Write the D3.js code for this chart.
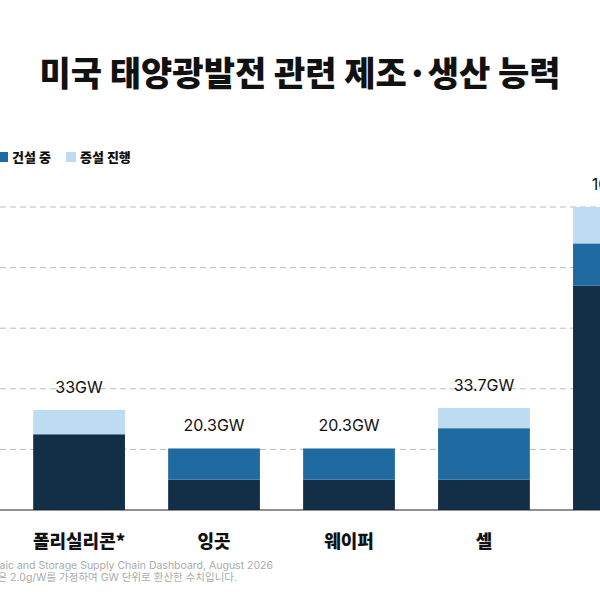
<!DOCTYPE html>
<html><head><meta charset="utf-8">
<script src="https://cdn.jsdelivr.net/npm/d3@7"></script>
<style>body{margin:0;background:#fff}svg{display:block;font-family:"Noto Sans CJK KR","Noto Sans",sans-serif}</style>
</head><body><svg id="c" width="600" height="600"></svg>
<script>
const categories = ["폴리실리콘*", "잉곳", "웨이퍼", "셀", "모듈"];
const operating = [25, 10, 10, 10, 74];
const building = [0, 10.3, 10.3, 17, 14];
const expanding = [8, 0, 0, 6.7, 12];
const totalLabels = ["33GW", "20.3GW", "20.3GW", "33.7GW", "100GW"];
const yTicks = [20, 40, 60, 80, 100];
const seriesNames = ["가동 중", "건설 중", "증설 진행"];
const colors = ["#132f48", "#1f6aa0", "#bddcf2"];

const svg = d3.select("#c");
const baseY = 510;
const x = d3.scaleBand().domain(categories).range([-10, 708]).padding(0.32);
const y = d3.scaleLinear().domain([0, 100]).range([baseY, 207]);

svg.append("text").attr("x", 300).attr("y", 86).attr("text-anchor", "middle")
  .attr("font-size", 34).attr("font-weight", 900).attr("fill", "#111")
  .text("미국 태양광발전 관련 제조·생산 능력");

// legend (first entry runs off the left edge)
const legX = [-70, -2, 66];
const leg = svg.append("g").selectAll("g").data(seriesNames).join("g")
  .attr("transform", (d, i) => `translate(${legX[i]},152)`);
leg.append("rect").attr("width", 10).attr("height", 10).attr("fill", (d, i) => colors[i]);
leg.append("text").attr("x", 14).attr("y", 10).attr("font-size", 13).attr("font-weight", 900)
  .attr("fill", "#111").text(d => d);

svg.append("g").selectAll("line").data(yTicks).join("line")
  .attr("x1", 0).attr("x2", 600).attr("y1", d => y(d)).attr("y2", d => y(d))
  .attr("stroke", "#bbb").attr("stroke-dasharray", "6,4");

const stacked = d3.stack().keys([0, 1, 2])(categories.map((c, i) => ({c, 0: operating[i], 1: building[i], 2: expanding[i]})));
svg.append("g").selectAll("g").data(stacked).join("g").attr("fill", (d, i) => colors[i])
  .selectAll("rect").data(d => d).join("rect")
  .attr("x", d => x(d.data.c)).attr("width", x.bandwidth())
  .attr("y", d => y(d[1])).attr("height", d => y(d[0]) - y(d[1]));

svg.append("line").attr("x1", 0).attr("x2", 600).attr("y1", baseY).attr("y2", baseY)
  .attr("stroke", "#222").attr("stroke-width", 1.2);

svg.append("g").selectAll("text").data(categories).join("text")
  .attr("x", d => x(d) + x.bandwidth() / 2).attr("y", 548).attr("text-anchor", "middle")
  .attr("font-size", 18).attr("font-weight", 900).attr("fill", "#111").text(d => d);

svg.append("g").selectAll("text").data(categories).join("text")
  .attr("x", d => x(d) + x.bandwidth() / 2)
  .attr("y", (d, i) => y(operating[i] + building[i] + expanding[i]) - 17)
  .attr("text-anchor", "middle").attr("font-size", 16).attr("fill", "#111")
  .attr("font-family", "Inter, sans-serif")
  .text((d, i) => totalLabels[i]);

const notes = ["Source: U.S. Solar Photovoltaic and Storage Supply Chain Dashboard, August 2026",
  "*폴리실리콘 생산량은 2.0g/W를 가정하여 GW 단위로 환산한 수치입니다."];
svg.append("g").selectAll("text").data(notes).join("text")
  .attr("x", (d, i) => i ? 237 : 273).attr("y", (d, i) => 569 + i * 12)
  .attr("text-anchor", "end").attr("font-size", 10.5).attr("fill", "#aaa")
  .attr("font-family", "Inter, 'Noto Sans CJK KR', sans-serif").text(d => d);
</script></body></html>
